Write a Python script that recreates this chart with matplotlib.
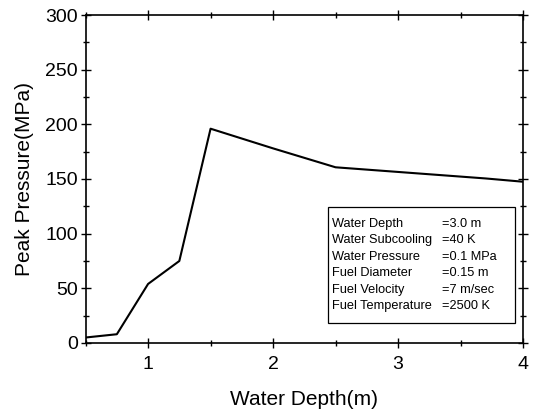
import matplotlib.pyplot as plt
from matplotlib.patches import Rectangle
from matplotlib.ticker import MultipleLocator

plt.rcParams['font.family'] = ['Liberation Sans', 'DejaVu Sans']

depth = [0.5, 0.75, 1.0, 1.25, 1.5, 2.0, 2.5, 3.7, 4.0]
peak_pressure = [5, 8, 54, 75, 196, 178, 160.7, 150.5, 147.5]

param_names = ["Water Depth", "Water Subcooling", "Water Pressure",
               "Fuel Diameter", "Fuel Velocity", "Fuel Temperature"]
param_values = ["=3.0 m", "=40 K", "=0.1 MPa", "=0.15 m", "=7 m/sec", "=2500 K"]


def make_plot():
    fig = plt.figure(figsize=(5.35, 4.11), dpi=100)
    ax = fig.add_axes([0.16, 0.1655, 0.8176, 0.798])

    ax.plot(depth, peak_pressure, color='black', lw=1.5)

    ax.set_xlim(0.5, 4)
    ax.set_ylim(0, 300)
    ax.xaxis.set_major_locator(MultipleLocator(1))
    ax.xaxis.set_minor_locator(MultipleLocator(0.5))
    ax.yaxis.set_major_locator(MultipleLocator(50))
    ax.yaxis.set_minor_locator(MultipleLocator(25))
    ax.tick_params(which='both', direction='inout', top=True, right=True,
                   labelsize=14, width=1, pad=2)
    ax.tick_params(axis='x', which='both', pad=6)
    ax.tick_params(which='major', length=7)
    ax.tick_params(which='minor', length=4)
    for s in ax.spines.values():
        s.set_linewidth(1.2)

    ax.set_xlabel("Water Depth(m)", fontsize=15, labelpad=12)
    ax.set_ylabel("Peak Pressure(MPa)", fontsize=15, labelpad=8)

    # parameter box
    ax.add_patch(Rectangle((0.554, 0.061), 0.428, 0.354, transform=ax.transAxes,
                           fill=False, edgecolor='black', lw=0.9))
    y0 = 0.363
    dy = 0.0503
    for i, (n, v) in enumerate(zip(param_names, param_values)):
        ax.text(0.563, y0 - i * dy, n, transform=ax.transAxes,
                fontsize=9.2, va='center', ha='left')
        ax.text(0.815, y0 - i * dy, v, transform=ax.transAxes,
                fontsize=9.2, va='center', ha='left')

    fig.savefig("out.png", dpi=100)


if __name__ == "__main__":
    make_plot()
